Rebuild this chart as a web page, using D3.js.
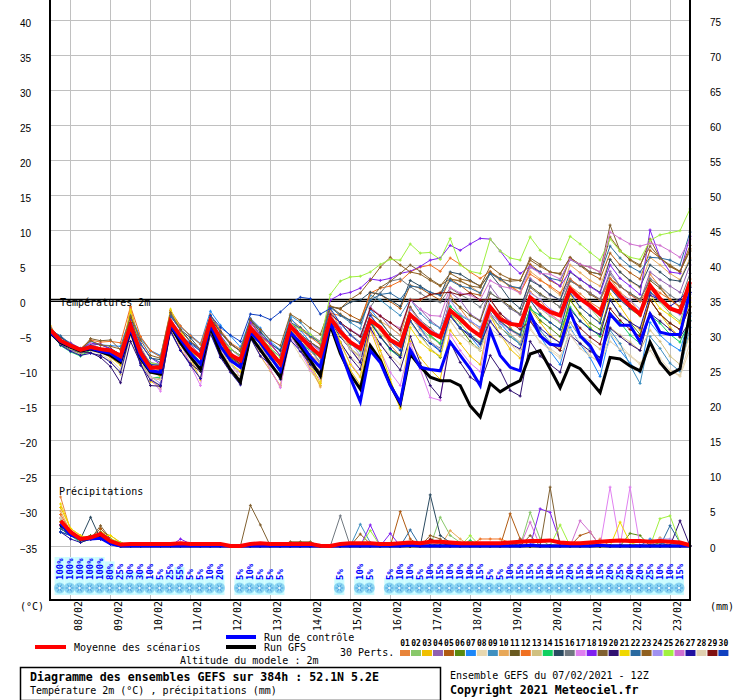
<!DOCTYPE html>
<html lang="fr">
<head>
<meta charset="utf-8">
<title>Diagramme des ensembles GEFS</title>
<script src="https://cdn.jsdelivr.net/npm/d3@7"></script>
<style>
  body { margin: 0; background: #fff; }
  svg { display: block; }
  text { font-family: "DejaVu Sans Mono", monospace; font-size: 10px; fill: #000; }
  .axis text { font-family: "Liberation Sans", Arial, sans-serif; font-size: 10px; fill: #000; }
  .dates text { font-family: "DejaVu Sans Mono", monospace; font-size: 10px; }
</style>
</head>
<body>
<svg id="chart" width="740" height="700"></svg>
<script>
// ---- data (6-hourly steps from 07/02 12Z, 0..384h) ----
const days = ["08/02","09/02","10/02","11/02","12/02","13/02","14/02","15/02",
              "16/02","17/02","18/02","19/02","20/02","21/02","22/02","23/02"];
const dayIdx = [2,6,10,14,18,22,26,30,34,38,42,46,50,54,58,62];
const tempTicks = [-35,-30,-25,-20,-15,-10,-5,0,5,10,15,20,25,30,35,40];
const mmTicks = [0,5,10,15,20,25,30,35,40,45,50,55,60,65,70,75];
const memberLabels = ["01","02","03","04","05","06","07","08","09","10","11","12","13","14","15",
                      "16","17","18","19","20","21","22","23","24","25","26","27","28","29","30"];
const memberColors = ["#e8843a","#88c86a","#f0c000","#9060b0","#b05a10","#5a8a10","#1e88f8","#e8d8b0",
                      "#4090c0","#e8a858","#6a5a20","#f07020","#d0c080","#10d060","#2a4a60","#707880",
                      "#e080f0","#8020f0","#806030","#301070","#f0d800","#2a6aa0","#906020","#a090f0",
                      "#a0f040","#d070d0","#2010a0","#e0d0b0","#801010","#1040c0"];

const tMean = [-4.2,-5.7,-6.4,-7.0,-6.6,-6.9,-7.1,-7.9,
  -3.5,-7.4,-9.6,-9.5,-3.0,-5.0,-6.8,-8.0,-2.9,-5.5,-7.7,-8.5,-3.9,-5.5,-7.3,-9.0,-3.6,-5.2,-6.6,-7.8,
  -2.5,-4.4,-5.9,-6.8,-2.8,-3.8,-5.6,-6.4,-2.0,-3.3,-4.5,-5.2,-1.4,-2.6,-4.0,-5.0,-0.9,-2.6,-3.3,-3.5,
  0.5,-0.7,-1.6,-2.1,1.7,0.3,-0.7,-1.9,2.4,0.7,-0.7,-1.9,2.2,0.3,-1.1,-1.6,2.7];
const tCtrl = [-4.5,-5.8,-6.5,-7.0,-6.8,-7.2,-7.5,-8.5,
  -4.0,-8.0,-10.0,-10.2,-3.5,-5.5,-7.5,-9.0,-3.5,-6.5,-8.5,-9.5,-4.5,-6.0,-8.0,-10.0,-4.5,-6.0,-8.0,-9.5,
  -3.0,-7.0,-11.0,-14.4,-7.1,-8.8,-12.1,-14.5,-7.0,-9.5,-9.8,-10.0,-5.9,-7.8,-9.7,-12.1,-4.2,-7.8,-9.5,-10.0,
  -1.9,-5.0,-6.2,-6.4,-1.6,-5.0,-6.4,-9.0,-1.9,-3.5,-3.5,-5.9,-1.9,-4.5,-4.8,-4.8,1.3];
const tGfs = [-4.6,-6.0,-6.6,-7.2,-6.9,-7.3,-7.8,-8.8,
  -4.2,-8.2,-10.2,-10.5,-3.6,-6.0,-8.0,-9.8,-3.8,-7.5,-9.8,-11.6,-5.0,-7.0,-9.0,-10.9,-4.5,-6.5,-8.5,-10.7,
  -3.5,-7.5,-10.5,-12.6,-6.4,-8.5,-12.0,-14.7,-7.6,-9.4,-10.9,-11.4,-11.4,-12.1,-15.0,-16.6,-11.8,-13.0,-12.1,-11.4,
  -7.6,-7.1,-9.7,-12.4,-9.0,-9.7,-11.4,-13.1,-8.1,-8.3,-9.3,-10.0,-5.9,-8.8,-10.5,-9.7,-1.6];

const m01 = [-4.3,-5.8,-6.8,-7.2,-6.3,-7.0,-7.8,-8.6, -1.0,-6.5,-9.2,-10.1,-2.4,-5.1,-7.6,-9.0,-3.1,-6.0,-8.2,-9.6,-3.4,-5.2,-7.1,-9.3,-3.2,-5.8,-7.7,-8.9, -1.2,-4.0,-6.8,-8.7,-2.1,-4.2,-6.3,-7.9,-1.0,-3.1,-5.0,-6.2,0.8,-1.1,-3.0,-4.2,0.2,-2.0,-3.8,-5.1,1.3,0.1,-1.8,-3.0,2.1,1.0,-0.2,-1.1,3.2,1.2,0.1,-1.8,3.8,2.0,0.2,-1.0,3.1];
const m02 = [-4.8,-6.1,-6.9,-7.6,-7.1,-7.2,-7.0,-7.7, -3.0,-7.1,-9.8,-10.2,-3.3,-5.2,-6.9,-8.1,-3.8,-5.9,-7.8,-8.8,-4.4,-5.8,-7.9,-9.7,-4.2,-5.1,-6.9,-8.2, -3.0,-4.8,-6.1,-7.2,-2.8,-4.1,-5.8,-6.9,-2.2,-3.9,-5.2,-6.1,-1.8,-3.2,-4.9,-5.8,-1.2,-2.9,-4.0,-4.8,0.2,-1.1,-2.2,-3.1,1.0,0.2,-1.0,-2.7,1.8,0.3,-1.2,-2.1,1.4,-0.2,-1.8,-2.9,1.2];
const m03 = [-3.6,-5.9,-6.2,-7.1,-6.8,-7.3,-8.1,-9.2, -1.6,-7.8,-11.5,-12.3,-1.8,-4.2,-8.1,-11.3,-2.8,-6.2,-9.8,-11.9,-3.8,-6.3,-9.9,-12.3,-4.3,-6.4,-9.8,-12.1, -3.2,-6.8,-9.9,-12.0,-4.1,-7.9,-11.8,-15.4,-5.8,-8.1,-9.8,-11.2,-4.2,-6.1,-7.9,-9.1,-2.1,-4.8,-6.9,-8.2,-1.2,-3.1,-4.9,-6.0,0.1,-2.0,-3.8,-5.1,1.0,-0.8,-2.9,-4.2,0.2,-1.9,-3.8,-5.2,0.4];
const m04 = [-4.1,-5.2,-6.0,-6.8,-6.1,-6.2,-6.9,-7.6, -2.8,-6.9,-8.8,-9.1,-3.1,-4.9,-6.2,-7.8,-2.9,-5.2,-6.8,-8.1,-3.6,-5.0,-6.8,-8.7,-3.8,-4.9,-6.1,-7.2, -1.8,-3.2,-4.1,-5.0,-1.2,-2.1,-3.8,-4.9,0.1,-1.2,-2.8,-3.9,1.2,0.1,-1.9,-2.8,2.1,0.2,-1.1,-2.0,3.2,2.1,0.8,0.1,3.1,2.0,1.1,0.2,4.2,2.1,0.9,-0.1,4.1,3.0,2.1,1.2,5.1];
const m05 = [-4.7,-6.2,-6.8,-7.3,-6.9,-7.1,-7.2,-7.9, -3.8,-7.2,-9.1,-9.3,-3.6,-5.8,-7.0,-8.2,-2.9,-5.1,-6.9,-7.8,-2.8,-4.9,-6.1,-7.9,-2.6,-3.8,-4.9,-6.1, -0.8,-1.2,-2.1,-2.8,1.2,0.9,-0.1,-1.1,2.2,1.8,0.9,0.1,3.1,2.2,1.1,0.8,4.1,3.2,1.9,1.8,5.2,4.1,2.9,2.1,6.1,5.0,3.9,3.1,6.8,5.1,4.0,3.1,7.2,6.1,4.9,4.1,7.4];
const m06 = [-4.4,-6.0,-7.1,-7.4,-6.8,-7.0,-7.3,-8.2, -4.1,-8.1,-10.2,-10.1,-3.4,-5.2,-7.2,-8.9,-3.9,-6.1,-8.0,-9.2,-4.8,-6.1,-8.2,-9.9,-4.9,-5.8,-7.1,-8.8, -2.9,-5.1,-6.8,-8.1,-3.2,-5.0,-6.9,-7.8,-2.8,-4.9,-6.8,-8.1,-2.1,-3.9,-5.8,-7.1,-1.9,-3.8,-5.1,-6.2,-0.9,-2.8,-3.9,-5.1,0.1,-1.8,-3.2,-4.1,0.2,-2.1,-3.1,-4.8,0.1,-1.9,-3.2,-4.1,-0.8];
const m07 = [-4.9,-5.9,-6.6,-7.1,-5.8,-6.3,-6.4,-6.5, -2.2,-5.2,-7.1,-7.8,-2.0,-3.8,-4.9,-6.1,-1.5,-3.5,-5.0,-6.6,-2.5,-3.9,-5.8,-7.0,-2.4,-4.2,-5.9,-7.1, -1.8,-3.1,-4.2,-5.1,-1.2,-3.0,-4.8,-5.9,-2.1,-3.8,-5.9,-7.1,-1.9,-3.8,-5.1,-6.8,-1.1,-3.2,-4.8,-6.1,-2.9,-5.1,-7.2,-9.1,-3.8,-6.2,-8.1,-10.8,-4.8,-7.1,-8.9,-10.2,-3.1,-4.9,-6.2,-7.1,-2.2];
const m08 = [-4.2,-6.1,-6.9,-7.2,-7.1,-7.6,-8.4,-9.8, -4.8,-8.8,-11.1,-12.1,-4.2,-6.9,-9.1,-11.0,-4.6,-7.8,-10.1,-11.4,-5.4,-7.9,-10.0,-12.2,-5.6,-7.9,-10.1,-11.8, -3.8,-6.1,-7.9,-9.2,-3.9,-6.2,-7.8,-9.1,-3.2,-5.1,-6.8,-7.9,-2.9,-4.8,-6.2,-7.1,-3.1,-4.9,-6.1,-7.8,-3.8,-5.9,-7.1,-8.2,-4.1,-6.0,-7.8,-8.9,-4.8,-6.2,-7.9,-9.1,-6.1,-8.2,-9.9,-10.8,-6.9];
const m09 = [-4.0,-5.3,-6.1,-6.9,-6.3,-6.8,-7.2,-7.8, -2.1,-5.4,-7.2,-8.0,-1.6,-3.6,-5.1,-6.2,-2.4,-4.6,-6.2,-7.1,-2.7,-4.3,-6.1,-7.2,-2.1,-3.1,-4.8,-5.9, -0.9,-2.1,-3.1,-4.0,0.8,0.1,-1.0,-2.1,0.2,-1.8,-3.1,-3.9,-0.8,-2.1,-2.9,-3.8,-1.9,-3.8,-5.1,-6.2,-2.1,-4.2,-5.9,-7.1,-3.1,-5.2,-6.8,-8.1,-4.2,-6.1,-9.2,-11.8,-5.1,-6.8,-8.9,-10.1,-3.8];
const m10 = [-3.8,-5.9,-6.3,-7.0,-6.9,-7.1,-6.8,-7.9, -3.7,-8.9,-11.0,-11.3,-2.8,-6.9,-8.8,-10.1,-3.7,-7.8,-10.1,-10.8,-4.6,-7.9,-10.0,-12.1,-4.8,-7.1,-9.2,-12.3, -2.8,-4.9,-6.1,-7.0,-1.8,-2.9,-3.8,-4.9,0.2,0.1,0.8,1.2,3.1,2.9,2.1,1.1,4.0,2.9,2.1,1.0,4.2,3.1,1.9,0.8,5.1,4.0,2.9,2.1,5.9,4.1,2.8,1.9,6.2,5.1,3.9,3.0,6.1];
const m11 = [-4.3,-6.2,-7.0,-7.3,-6.9,-7.2,-7.8,-8.2, -3.1,-7.9,-10.9,-11.1,-3.0,-5.8,-8.1,-9.9,-3.3,-6.1,-8.2,-9.1,-4.1,-6.0,-8.1,-9.8,-3.9,-5.1,-6.9,-8.8, -2.1,-3.9,-5.8,-6.9,-1.8,-2.9,-4.8,-5.9,-0.9,-2.8,-3.9,-5.1,0.2,-0.9,-2.1,-2.9,1.1,0.2,-0.8,-1.9,2.1,1.0,0.1,-0.9,2.8,2.1,0.9,0.1,3.1,2.0,1.1,0.2,2.9,1.8,0.1,-0.8,2.1];
const m12 = [-3.9,-5.6,-6.2,-6.8,-5.6,-5.9,-5.8,-6.0, -0.8,-5.1,-7.1,-8.0,-1.4,-3.6,-5.0,-6.2,-2.0,-4.2,-6.0,-6.9,-3.0,-5.0,-6.3,-7.8,-3.0,-4.1,-5.2,-6.3, -1.8,-2.1,-2.8,-3.1,1.1,1.8,2.1,2.8,4.1,4.8,5.1,4.2,6.1,5.2,4.1,3.2,4.2,3.1,2.1,1.2,3.8,2.9,2.1,1.1,3.1,2.0,1.1,0.1,3.2,2.1,0.9,-0.1,2.2,1.1,0.2,-0.9,1.2];
const m13 = [-4.5,-6.3,-7.1,-7.7,-7.4,-7.9,-8.6,-10.5, -4.9,-8.9,-10.9,-12.6,-3.8,-6.2,-8.9,-11.1,-4.8,-7.2,-9.1,-10.2,-4.8,-7.1,-9.1,-11.1,-4.6,-6.8,-8.9,-10.1, -3.1,-4.9,-6.8,-7.9,-2.9,-4.8,-5.9,-6.9,-1.8,-2.9,-4.1,-4.9,-1.1,-2.8,-3.9,-4.8,-2.1,-3.9,-4.8,-5.9,-2.9,-4.8,-5.9,-6.8,-3.1,-4.9,-5.8,-6.9,-3.8,-4.9,-5.9,-7.1,-4.2,-5.8,-7.9,-9.1,-4.8];
const m14 = [-4.2,-6.4,-7.3,-7.9,-7.0,-7.2,-7.4,-8.0, -4.0,-8.3,-11.0,-10.9,-2.9,-4.9,-7.0,-8.8,-3.0,-5.8,-7.9,-9.0,-3.9,-6.0,-8.2,-10.2,-5.1,-6.2,-7.1,-8.1, -2.2,-4.1,-6.2,-7.1,-2.9,-5.1,-7.0,-8.1,-2.1,-3.2,-4.9,-6.1,-0.8,-2.1,-3.9,-4.9,-1.8,-3.1,-4.1,-5.1,-1.2,-2.1,-3.1,-4.1,-0.9,-2.9,-3.9,-5.1,-1.8,-3.1,-4.9,-6.1,-2.1,-3.2,-4.8,-5.9,-2.8];
const m15 = [-4.0,-5.2,-6.2,-6.9,-6.1,-6.3,-6.8,-7.7, -2.4,-6.1,-8.2,-8.4,-2.2,-4.1,-5.3,-7.0,-2.6,-4.4,-6.1,-7.2,-2.7,-4.5,-6.1,-7.1,-2.9,-4.8,-5.9,-6.9, -0.9,-1.1,-0.2,0.1,1.2,0.9,0.1,-0.8,2.9,2.1,1.2,0.8,4.1,3.8,2.9,2.1,3.9,2.1,0.1,-1.1,2.9,2.1,0.9,0.1,4.1,3.0,2.1,1.2,5.9,4.1,2.9,2.0,5.1,4.1,3.0,2.8,5.8];
const m16 = [-4.6,-6.0,-6.7,-7.0,-6.4,-6.9,-7.2,-8.1, -3.3,-7.2,-9.1,-9.8,-2.9,-5.1,-6.8,-8.2,-3.8,-5.9,-7.2,-8.9,-3.9,-5.2,-7.1,-8.9,-3.9,-5.1,-6.8,-8.1, -1.9,-3.1,-4.8,-5.9,-0.9,1.1,2.8,3.1,2.0,1.1,0.1,-0.2,1.8,0.9,0.1,-0.9,1.2,0.1,-1.1,-1.9,1.9,0.8,0.1,-0.9,2.9,1.9,1.1,0.2,3.8,2.1,1.0,0.1,3.2,2.1,0.8,-0.1,3.9];
const m17 = [-4.1,-5.9,-6.8,-7.4,-6.8,-7.1,-7.9,-8.8, -3.3,-8.1,-11.1,-12.9,-3.1,-5.9,-9.2,-12.1,-3.9,-6.9,-9.8,-10.2,-4.8,-7.1,-9.8,-12.4,-5.1,-7.2,-9.9,-11.2, -3.1,-6.2,-8.9,-10.8,-3.9,-7.1,-10.2,-12.1,-6.1,-9.8,-13.8,-14.2,-4.8,-7.1,-8.9,-10.1,-1.9,-3.1,-4.2,-5.1,0.2,-1.1,-2.0,-2.9,0.9,0.1,-1.1,-1.9,2.1,0.2,-0.9,-1.8,1.1,0.1,-1.2,-2.0,0.1];
const m18 = [-3.9,-5.8,-6.1,-6.8,-6.1,-6.2,-6.9,-7.8, -2.8,-6.1,-8.1,-9.1,-2.1,-4.2,-5.9,-6.9,-2.9,-4.9,-6.8,-7.9,-3.1,-4.9,-6.1,-7.8,-3.2,-4.1,-4.9,-5.8, 0.1,0.9,1.2,1.8,3.1,2.9,3.2,3.9,4.2,4.9,5.8,6.1,7.9,7.2,8.1,8.9,8.8,7.1,5.2,3.9,4.9,4.1,3.1,2.1,4.2,3.1,2.0,1.1,5.1,3.2,2.1,0.9,10.1,6.2,4.1,3.9,9.2];
const m19 = [-4.4,-6.1,-6.9,-7.1,-5.4,-5.7,-5.6,-7.0, -3.1,-7.2,-9.2,-9.9,-2.9,-5.2,-6.9,-8.1,-3.1,-5.8,-7.9,-9.1,-3.8,-5.1,-6.9,-8.8,-3.7,-4.8,-5.9,-6.8, -0.8,-1.9,-2.8,-3.1,0.2,1.9,2.8,3.9,5.1,4.2,3.1,2.2,3.1,2.8,2.1,1.9,4.1,3.1,2.8,2.9,6.1,5.2,4.1,3.8,6.2,5.1,4.8,4.1,10.8,7.1,5.9,5.1,7.8,6.1,4.9,4.2,7.1];
const m20 = [-4.3,-6.2,-6.9,-7.3,-7.4,-8.1,-9.4,-11.7, -5.8,-8.9,-12.1,-12.2,-4.2,-7.1,-9.0,-10.1,-4.5,-7.9,-9.9,-11.8,-5.4,-7.2,-9.1,-10.9,-4.7,-7.1,-8.9,-10.1, -3.2,-5.9,-8.1,-9.8,-3.9,-6.2,-8.1,-9.9,-5.1,-8.9,-12.1,-13.8,-5.9,-8.8,-10.9,-11.9,-7.8,-9.9,-12.8,-13.6,-5.8,-7.9,-9.1,-10.2,-4.9,-6.1,-7.2,-8.1,-3.9,-5.1,-6.2,-7.1,-1.8,-2.9,-4.1,-5.2,-2.9];
const m21 = [-4.0,-6.0,-6.7,-7.2,-6.9,-7.2,-7.4,-8.1, -1.3,-7.0,-9.9,-10.8,-1.2,-4.1,-6.9,-9.1,-2.8,-5.9,-8.9,-10.1,-3.9,-6.1,-8.8,-11.1,-3.9,-6.2,-8.9,-11.8, -2.1,-5.9,-9.1,-10.9,-2.8,-7.1,-11.2,-15.2,-3.8,-5.9,-7.1,-7.9,-1.8,-3.9,-5.1,-6.1,-0.8,-2.9,-4.1,-5.0,0.1,-1.8,-3.1,-4.1,0.8,-0.9,-2.1,-3.1,1.9,0.1,-1.1,-2.2,0.9,-1.1,-2.1,-3.2,-0.2];
const m22 = [-4.2,-5.0,-6.2,-6.9,-6.2,-6.8,-7.1,-7.7, -2.9,-6.2,-8.1,-8.8,-2.1,-4.1,-5.9,-7.1,-3.0,-5.1,-6.9,-7.8,-3.9,-5.1,-6.8,-8.0,-3.1,-3.9,-5.1,-6.0, -0.9,-2.1,-2.8,-3.2,0.1,0.9,1.1,0.2,2.1,1.9,1.2,0.8,2.9,2.1,1.8,1.1,3.9,3.1,2.1,1.8,4.8,4.1,3.2,2.9,5.9,5.1,4.1,3.8,7.8,6.1,4.9,4.1,6.2,6.1,5.8,5.1,9.8];
const m23 = [-4.0,-5.8,-6.3,-6.9,-5.7,-6.3,-6.5,-6.9, -2.2,-5.6,-7.8,-8.2,-1.7,-4.1,-5.8,-6.9,-2.1,-4.5,-6.2,-7.2,-2.6,-4.1,-5.6,-6.4,-1.9,-2.8,-3.9,-4.8, -0.8,-1.1,0.2,1.1,2.9,4.8,6.2,5.1,4.1,3.8,2.9,2.1,3.9,3.1,2.8,2.1,4.9,3.8,3.1,2.9,5.8,4.9,4.1,3.9,6.1,5.2,4.1,3.8,9.1,7.2,5.8,4.9,8.8,6.1,5.1,4.2,7.9];
const m24 = [-4.4,-6.2,-7.2,-7.1,-7.1,-7.4,-7.8,-8.3, -3.4,-7.2,-10.8,-11.8,-3.1,-5.8,-8.1,-9.8,-3.8,-6.1,-8.9,-10.9,-4.1,-6.2,-8.8,-10.8,-4.0,-5.2,-7.1,-8.8, -2.1,-3.8,-5.9,-7.8,-1.9,-4.1,-5.8,-6.9,-1.2,-2.8,-4.1,-4.9,0.1,-1.9,-2.8,-3.9,0.2,-1.8,-2.9,-3.8,1.1,0.2,-1.2,-1.9,1.8,0.1,-0.8,-2.1,2.1,0.9,0.1,-1.2,1.9,0.1,-1.1,-1.8,0.9];
const m25 = [-4.1,-6.1,-6.9,-7.0,-6.8,-6.9,-7.1,-7.8, -3.0,-6.9,-8.9,-9.1,-2.9,-5.2,-6.9,-7.8,-3.1,-5.2,-6.8,-7.9,-3.9,-5.1,-6.8,-8.1,-3.2,-4.1,-4.8,-5.9, 0.9,2.8,3.4,3.5,4.1,5.2,5.9,5.8,8.1,6.8,6.9,5.9,8.9,5.1,4.2,3.9,8.8,7.1,6.1,5.8,9.1,7.2,6.1,5.9,9.2,8.1,6.9,5.8,8.8,7.1,6.2,5.9,8.6,9.4,9.7,10.0,13.1];
const m26 = [-4.2,-5.8,-6.6,-7.2,-6.1,-6.8,-7.2,-7.8, -3.1,-6.8,-9.1,-9.8,-2.8,-5.1,-6.9,-8.1,-3.2,-5.8,-7.8,-8.9,-4.1,-5.8,-7.9,-9.1,-3.2,-4.9,-6.1,-7.1, -1.8,-3.2,-4.1,-5.1,-0.9,-2.1,-3.2,-3.9,0.1,-1.2,-2.1,-2.2,1.9,1.1,0.8,0.1,2.9,2.1,1.8,1.1,4.8,3.9,3.8,3.1,5.9,5.2,4.8,4.1,9.8,8.9,8.1,7.8,8.2,7.9,7.1,6.2,8.8];
const m27 = [-4.5,-6.3,-7.2,-7.8,-7.5,-7.8,-8.8,-10.2, -4.6,-9.2,-11.3,-12.1,-4.4,-7.1,-9.2,-11.1,-4.7,-8.1,-10.2,-12.0,-5.3,-7.9,-9.1,-11.2,-5.6,-7.2,-9.1,-10.8, -2.9,-5.1,-6.9,-8.8,-3.1,-5.2,-6.8,-8.1,-2.1,-4.1,-5.9,-6.8,-2.2,-3.9,-5.1,-6.2,-2.9,-4.8,-6.1,-6.9,-2.1,-3.9,-5.1,-6.0,-1.2,-2.9,-4.1,-4.8,0.1,-1.9,-3.1,-3.9,0.8,0.1,-0.8,0.2,1.9];
const m28 = [-4.3,-6.1,-6.8,-7.3,-7.0,-7.3,-7.7,-8.4, -3.8,-8.1,-10.9,-11.2,-3.5,-6.2,-8.1,-9.9,-4.4,-7.2,-9.1,-10.9,-4.6,-7.1,-8.9,-10.9,-4.7,-6.9,-8.2,-9.9, -2.8,-4.9,-6.9,-8.1,-2.2,-4.1,-5.9,-6.8,-1.9,-4.2,-5.8,-6.9,-2.8,-4.9,-6.1,-6.8,-3.9,-5.1,-6.2,-7.1,-4.1,-5.9,-6.8,-7.9,-4.9,-6.8,-7.9,-8.8,-5.8,-6.9,-7.8,-8.9,-7.1,-9.0,-10.1,-10.6,-5.9];
const m29 = [-4.1,-6.0,-6.6,-7.0,-6.8,-6.9,-7.2,-7.9, -3.1,-7.1,-9.2,-9.8,-2.9,-5.0,-7.0,-8.1,-3.2,-5.9,-7.9,-9.0,-3.9,-5.2,-7.2,-9.0,-3.9,-5.1,-6.2,-7.9, -1.9,-3.1,-4.2,-5.1,-1.1,-2.2,-3.1,-4.2,0.1,0.2,0.9,1.1,1.2,0.8,1.1,0.1,0.2,-1.8,-3.1,-4.1,-2.9,-4.8,-6.1,-7.1,-2.1,-3.9,-5.2,-6.2,-1.1,-2.8,-4.1,-5.1,0.1,-1.9,-3.2,-4.1,-0.9];
const m30 = [-4.8,-5.9,-6.7,-7.1,-6.4,-6.9,-7.2,-7.9, -3.2,-6.9,-9.1,-9.2,-2.9,-4.9,-6.1,-7.2,-2.1,-3.8,-4.9,-5.8,-1.9,-2.1,-2.7,-1.6,-0.3,0.5,0.3,-1.9, -1.1,-3.2,-4.9,-6.1,-2.1,-3.9,-5.8,-7.1,-2.9,-4.9,-6.1,-7.2,-2.1,-3.9,-4.8,-6.1,-1.2,-2.9,-4.1,-4.9,0.1,-1.9,-3.1,-4.1,1.1,-0.9,-2.1,-3.2,1.8,0.1,-1.1,-2.1,1.2,0.1,-0.9,-1.8,1.2];
const members = [m01,m02,m03,m04,m05,m06,m07,m08,m09,m10,m11,m12,m13,m14,m15,
                 m16,m17,m18,m19,m20,m21,m22,m23,m24,m25,m26,m27,m28,m29,m30];

// precipitation, mm per 6h, steps 6h..384h
const pMean = [3.6,2.0,1.0,1.2,1.7,0.7,0.2,0.3, 0.3,0.3,0.3,0.3,0.4,0.3,0.3,0.3, 0.3,0,0,0.3,0.4,0.3,0.3,0.3, 0.3,0.3,0.05,0,0.3,0.4,0.4,0.4, 0.3,0.3,0.4,0.5,0.4,0.6,0.6,0.5, 0.4,0.4,0.4,0.4,0.4,0.5,0.6,0.7, 0.7,0.8,0.5,0.4,0.4,0.5,0.6,0.7, 0.8,0.7,0.7,0.6,0.7,0.6,0.5,0.1];
const pCtrl = [3.2,1.6,1.0,1.0,1.1,0.3,0,0, 0,0,0,0,0,0,0,0, 0,0,0,0,0,0,0,0, 0,0,0,0,0,0,0,0, 0,0,0,0.1,0,0,0,0, 0,0,0,0,0,0,0,0.1, 0,0,0,0,0,0,0.1,0, 0,0,0,0,0,0,0,0];
const pGfs = [3.0,1.8,0.9,1.1,1.3,0.4,0,0, 0,0,0,0,0,0,0,0, 0,0,0,0,0,0,0,0, 0,0,0,0,0,0,0,0, 0,0,0,0,0,0,0,0, 0,0,0,0,0,0,0,0, 0,0,0,0,0,0,0,0, 0,0,0,0,0,0,0,0];
const p01 = [7,2.2,1,1.5,1.6,0.6,0.1,0, 0,0,0,0,0.2,0,0,0, 0,0,0,0,0,0,0,0, 0,0,0,0,0,0,0,0, 0,0,0,0,0,0,0.5,0.3, 0,0,0,0,0,0,0,0, 0,0,0,0,0,0,1,0, 0,0,0,0,0,0,0,0];
const p02 = [4,2,1,1,2,0.5,0,0, 0,0,0,0,0,0,0,0, 0,0,0,0,0,0,0,0, 0,0,0,0,0,0,0,0, 0,0,0,0,0,0,4.1,1.5, 0.5,0,0,0,0,0,0,4.8, 1,0,0,0,0,0,0,0, 0,0,0,0,0,0,0,0];
const p03 = [5.5,2.5,1.5,1,2,1.5,0.5,0, 0,0,0,0,0,0,0,0, 0,0,0,0,0,0,0,0, 0,0,0,0,0,0,0,0, 0,0,0,0,0,0,0,0, 0,0,0,0,0,0,0,0, 0,0,0,0,0,0,0,0, 0,0,0,0,0,0,0,0];
const p04 = [3,1.5,1,1,1.5,0.5,0,0, 0,0,0,0,0,0,0,0, 0,0,0,0,0,0,0,0, 0,0,0,0,0,0,0,0, 0,0,0,0,0,0,0,0, 0,0,0,0,0,0,1,0.5, 0,0,0,0,0,0,0,0, 0,0,0,0,0,0,0,0];
const p05 = [4,2,1,1,2.5,1,0,0, 0,0,0,0,0,0,0,0, 0,0,0,0,0,0,0,0, 0,0,0,0,0,0,0,0, 0,0,4.9,1,0,0,0,0, 0,0,0,0,0,4.6,1,0, 0,0,0,0,1.5,2,0,0, 0,0,0,0,0,0,0,0];
const p06 = [3.5,1.5,1,1.5,1,0.5,0,0, 0,0,0,0,0,0,0,0, 0,0,0,0,0,0,0,0, 0,0,0,0,0,0,0,0, 0,0,0,0,0,0,0,0, 0,0,0,0,0,0,0,0, 0,0,0,0,0,0,0,0, 0,1.8,1.5,0,0.5,0,0,0];
const p07 = [3,1.5,1,1,1,0.5,0,0, 0,0,0,0,0,0,0,0, 0,0,0,0,0,0,0,0, 0,0,0,0,0,0,0,0.3, 0,0,0,0,0,0,0,0, 0,0,0,0,0,0,0,0, 0,0,0,0,0,0,0,0, 0,0,0,1,0.5,0,0,0];
const p08 = [4,2,0.5,1,1,0.5,0,0, 0,0,0,0,0,0,0,0, 0,0,0,0,0,0,0,0, 0,0,0,0,0,0,0,0, 0,0,0,0,0,0,0,0, 0,0,0,0,0,0,0,0, 0,0,0,0,0,0,0,0, 0,0,0,0,0,0,0,0];
const p09 = [2,1.5,1,1,1,0.3,0,0, 0,0,0,0,0,0,0,0, 0,0,0,0,0,0,0,0, 0,0,0,0,0,0,3.1,0.5, 0,0,0,0,0,0,0,0, 0,0,0,0,0,0,0,0, 0,0,0,0,0,0,0,0, 0,0,0,0,0,0,0,0];
const p10 = [5,2,1,1,1.5,1,0.5,0, 0,0,0,0,0,0,0,0, 0,0,0,0,0,0,0,0, 0,0,0,0,0,0,0,0, 0,0,0,0,0,0,0,2.2, 1,0,0,0,0,0,0,0, 0,0,0,0,0,0,0,0, 0,0,0,0,1.2,0,0,0];
const p11 = [3.5,2,1,1,1.5,0.5,0,0, 0,0,0,0,0,0,0,0, 0,0,0,0,0,0,0,0, 0,0,0,0,0,0,0,0, 0,0,0,0,0,0,0,0, 0,0,0,0,0,0,0,0, 0,0,0,0,0,0,0,0, 0,0,0,0,0,0,0,0];
const p12 = [4.5,2,1,1,1,0.5,0,0, 0,0,0,0,0,0,0,0, 0,0,0,0,0,0,0,0, 0,0,0,0,0,0,0,0, 0,0,0,0,0,0,0,0, 0,0,1,1,1,0.5,0,0, 0,0,0,0,0,0,0,0, 0,0,0,0,0,0,0,0];
const p13 = [3,1.5,1,1,1,0.5,0,0, 0,0,0,0,0,0,0,0, 0,0,0,0,0,0,0,0, 0,0,0,0,0,0,0,0, 0,0,0,0,0,0,0,0, 0,0,0,0,0,0,0,0, 0,0,0,0,0,0,0,0, 0,0,0,0,0,0,0,0];
const p14 = [2.5,1.5,0.5,1,1,0.5,0,0, 0,0,0,0,0,0,0,0, 0,0,0,0,0,0,0,0, 0,0,0,0,0,0,0,0, 0,0,0,0,0,0,0,0, 0,0.8,0,0,0,0,0,0, 0,0,0,0,0,0,0,0, 0,0,0,0,0,0,0,0];
const p15 = [2.5,1.5,1,4.1,1,0.3,0,0, 0,0,0,0,0,0,0,0, 0,0,0,0,0,0,0,0, 0,0,0,0,0,0,0,0, 0,0,0,0,0,7.3,1.5,0.5, 0,0,0,0,0,0,0,0, 0,0,0,0,0,0,0,0, 0,0,0,0,0,0,0,0];
const p16 = [2,1.5,1,1,1,0.3,0,0, 0,0,0,0,0,0,0,0, 0,0,0,0,0,0,0,0, 0,0,0,0,4.3,0,0,0, 0,0,0,0,0,0,0,0, 0,0,0,0,0,0,0,0, 0,0,0,0,0,0,0,0, 0,0,0,0,0,0,0,0];
const p17 = [3,1.5,1,1,1,0.5,0,0, 0,0,0,0,0,0,0,0, 0,0,0,0,0,0,0,0, 0,0,0,0,0,0,0,0, 0,0,0,0,0,0,0,0, 0,0,0,0,0,0,0,0, 0,0,0,0,0,0,0,8.4, 0,8.4,0,0,0,0,0,0];
const p18 = [3,1.5,1,1,1,0.5,0,0, 0,0,0,0,1,0.3,0,0, 0,0,0,0,0,0,0,0, 0,0,0,0,0,0,0,3.0, 0,1.8,0,0,0,0,0,0, 0,0,0,0,0,0,0,0, 5.3,4.8,0.5,0,0,0,0,0, 0,0,0,0,0,0,0,0];
const p19 = [3,2,1,1,2.9,1,0,0, 0,0,0,0,0,0,0,0, 0,0,0,5.8,3,0,0,0, 0,0,0,0,0,0,0,0, 0,0,0,0,0,0,0,0, 0,0,0,0,0,0,0,1.5, 0,8.4,0,0,0,0,0,0, 0,0,0,0,0,0,0,0];
const p20 = [2.5,1.5,1,1,1,0.3,0,0, 0,0,0,0,0,0,0,0, 0,0,0,0,0,0,0,0, 0,0,0,0,0,0,0,0, 0,0,0,0,0,0,0,0, 0,0,0,0,0,0,0,0, 0,0,0,0,0,0,0,0, 0,0,0,0,0,0,3.6,0];
const p21 = [6,2.5,1.5,1,1.5,1.5,0.5,0, 0,0,0,0,0,0,0,0, 0,0,0,0,0,0,0,0, 0,0,0,0,0,0,0,0, 0,0,0,0,0,0,0,0, 0,0,0,0,0,0,0,0, 0,0,0,0,0,0,0,0, 3.4,0.5,0,0,0,0,0,0];
const p22 = [2.5,1.5,1,1,1,0.3,0,0, 0,0,0,0,0,0,0,0, 0,0,0,0,0,0,0,0, 0,0,0,0,0,0,0,0, 0,0,0,2.3,0,0,0,0, 0,0,0,0,0,0,0,0, 0,0,0,0,0,0,0,0, 0,0,0,0,0,2.9,0.5,0];
const p23 = [3.5,2,1,1,2,1,0,0, 0,0,0,0,0,0,0,0, 0,0,0,0,0,0,0,0.6, 0.6,0.6,0,0,0,0,1.7,0.3, 0,0,0,0,0,1.5,1,0, 0,0,0,0,0,0,0,0, 0,0,0,0,0,0,0,0, 0,0,0,0,0,0,0,0];
const p24 = [4,2,1,1,1,0.5,0,0, 0,0,0,0,0,0,0,0, 0,0,0,0,0,0,0,0, 0,0,0,0,0,0,0,0, 0,0,0,0,0,0,0,0, 0,0,0,0,0,0,0,0, 0,0,0,0,0,0,0,0, 0,0,0,0,1,1,0,0];
const p25 = [3.5,2,1,1,1.5,1,0.5,0, 0,0,0,0,0,0,0,0, 0,0,0,0,0,0,0,0, 0,0,0,0,0,0,0,2.2, 0,0,0,0,0,0,0,0, 0,1.5,0,0,0,0,0,0, 0,0,3.0,0,0,0,0,0, 0,0,0,0,3.9,4.3,0.5,0];
const p26 = [3,1.5,1,1,1.5,0.5,0,0, 0,0,0,0,0,0,0,0, 0,0,0,0,0,0,0,0, 0,0,0,0,0,0,0,0, 0,0,0,0,0,0,0,0, 0,0,0,0,0,0,0,3.4, 0,0,0,0,3.6,2,0,0, 0,0,0,0,0,0,0,0];
const p27 = [2,1,0.5,1,1,0.3,0,0, 0,0,0,0,0,0,0,0, 0,0,0,0,0,0,0,0, 0,0,0,0,0,0,0,0, 0,0,0,0,0,0,0,0, 0,0,0,0,0,0,0,0, 0,0,0,0,0,0,0,0, 0,0,0,0,0,0,0,0];
const p28 = [4,2,1,1,1,0.5,0,0, 0,0,0,0,0,0,0,0, 0,0,0,0,0,0,0,0, 0,0,0,0,0,0,0,0, 0,0,0,0,0,0,0,0, 0,0,0,0,0,0,0,0, 0,0,0,0,0,0,0,0, 0,0,0,0,0,0,0,0];
const p29 = [3,1.5,1,1,1,0.5,0,0, 0,0,0,0,0,0,0,0, 0,0,0,0,0,0,0,0, 0,0,0,0,0,0,0,0, 0,0,0,0,0,1,0.5,0, 0,0,0,0,0,0,0,0, 0,0,0,0,0,0,0,0, 0,0,0,0,0,0,0,0];
const p30 = [2,1.5,1,1,1,0.3,0,0, 0,0,0,0,0,0,0,0, 0,0,0,0,0,0,0,0, 0,0,0,0,0,0,0,0, 0,0,0,0,0,0,0,0, 0,0,0,0,0,0,0,0, 0,0,0,0,0,0,0,0, 0,0,0,0,0,0,0,0];
const precip = [p01,p02,p03,p04,p05,p06,p07,p08,p09,p10,p11,p12,p13,p14,p15,
                p16,p17,p18,p19,p20,p21,p22,p23,p24,p25,p26,p27,p28,p29,p30];

// probability of snow (%) per 6h step, 0 = none
const snowPct = [0,100,100,100,100,100,80,25,30,30,10,5,25,55,5,5,10,20,0,5,10,5,5,5,0,0,0,0,0,5,0,
  10,5,0,5,10,10,5,10,15,10,10,10,15,5,5,10,15,15,15,10,15,20,15,10,15,20,25,20,20,25,10,10,15,0];

// ---- scales ----
const svg = d3.select("#chart");
const x = d3.scaleLinear().domain([0, 64]).range([50.6, 690]);
const y = d3.scaleLinear().domain([-35, 40]).range([546, 20.5]);
const yMm = d3.scaleLinear().domain([0, 75]).range([546, 20.5]);
const L = 50, R = 690, B = 600;

// grid
const grid = svg.append("g").attr("stroke", "#c0c0c0").attr("stroke-width", 1)
  .attr("shape-rendering", "crispEdges");
grid.selectAll("line.h").data(tempTicks).join("line").attr("class", "h")
  .attr("x1", L).attr("x2", R).attr("y1", d => y(d)).attr("y2", d => y(d));
grid.selectAll("line.v").data(dayIdx).join("line").attr("class", "v")
  .attr("x1", d => x(d)).attr("x2", d => x(d)).attr("y1", 0).attr("y2", B);

// snow band
const snowData = snowPct.map((p, i) => ({ i, p })).filter(d => d.p > 0);
const snow = svg.append("g");
snow.selectAll("rect").data(snowData).join("rect")
  .attr("x", d => x(d.i) - 6).attr("width", 10)
  .attr("y", d => 579 - d.p * 0.22).attr("height", d => 595 - (579 - d.p * 0.22))
  .attr("fill", "#ccfcff");
const flakes = snow.selectAll("g.flake").data(snowData).join("g").attr("class", "flake")
  .attr("transform", d => `translate(${x(d.i) - 1},588)`);
flakes.append("circle").attr("r", 5.5).attr("fill", "#8cd6f2");
flakes.append("path").attr("d", "M-4,0H4M-2,-3.5L2,3.5M-2,3.5L2,-3.5")
  .attr("stroke", "#4a9ede").attr("stroke-width", 1).attr("fill", "none");
flakes.append("circle").attr("r", 1.2).attr("fill", "#e8f8ff");
snow.selectAll("text").data(snowData).join("text")
  .attr("transform", d => `translate(${x(d.i) + 2.5},580) rotate(-90)`)
  .style("fill", "#0000ff").style("font-weight", "bold").style("font-size", "9px")
  .text(d => d.p + "%");

// 0 °C line
svg.append("g").attr("stroke", "#000").attr("stroke-width", 1.2)
  .selectAll("line").data([-1.3, 0.7]).join("line")
  .attr("x1", L).attr("x2", R).attr("y1", d => y(0) + d).attr("y2", d => y(0) + d);

// series
const tLine = d3.line().x((d, i) => x(i)).y(d => y(d));
const pLine = d3.line().x((d, i) => x(i + 1)).y(d => yMm(d));
const plot = svg.append("g");

function marks(g, data, xf, yf, color) {
  g.append("path")
    .attr("d", data.map((d, i) => `M${xf(i) - 1.5},${yf(d)}h3M${xf(i)},${yf(d) - 1.5}v3`).join(""))
    .attr("stroke", color).attr("stroke-width", 1).attr("fill", "none");
}

members.forEach((m, k) => {
  plot.append("path").attr("d", tLine(m)).attr("fill", "none")
    .attr("stroke", memberColors[k]).attr("stroke-width", 1);
  marks(plot, m, i => x(i), d => y(d), memberColors[k]);
});
precip.forEach((p, k) => {
  plot.append("path").attr("d", pLine(p)).attr("fill", "none")
    .attr("stroke", memberColors[k]).attr("stroke-width", 1);
  marks(plot, p, i => x(i + 1), d => yMm(d), memberColors[k]);
});

const thick = [[tGfs, pGfs, "#000", 3], [tCtrl, pCtrl, "#0000ff", 3], [tMean, pMean, "#ff0000", 4]];
thick.forEach(([t, p, c, w]) => {
  plot.append("path").attr("d", tLine(t)).attr("fill", "none").attr("stroke", c).attr("stroke-width", w);
  plot.append("path").attr("d", pLine(p)).attr("fill", "none").attr("stroke", c).attr("stroke-width", w);
});

// frame
svg.append("path").attr("d", `M${L},0V${B}H${R}V0`).attr("fill", "none")
  .attr("stroke", "#000").attr("stroke-width", 1.3).attr("shape-rendering", "crispEdges");

// axes
const axL = svg.append("g").attr("class", "axis").attr("transform", `translate(${L},0)`)
  .call(d3.axisLeft(y).tickValues(tempTicks).tickSize(0));
axL.select(".domain").remove();
axL.selectAll("text").attr("x", -30).attr("dy", null).attr("y", 6).attr("text-anchor", "start");

const axR = svg.append("g").attr("class", "axis").attr("transform", `translate(${R},0)`)
  .call(d3.axisRight(yMm).tickValues(mmTicks).tickSize(0));
axR.select(".domain").remove();
axR.selectAll("text").attr("x", 20).attr("dy", null).attr("y", 5).attr("text-anchor", "start");

const axB = svg.append("g").attr("class", "dates").attr("transform", `translate(0,${B})`)
  .call(d3.axisBottom(x).tickValues(dayIdx).tickFormat((d, i) => days[i]).tickSize(0));
axB.select(".domain").remove();
axB.selectAll("text").attr("x", null).attr("y", null).attr("dy", null)
  .attr("transform", "translate(10.5,31) rotate(-90)").attr("text-anchor", "start");

svg.append("text").attr("x", 20).attr("y", 610).text("(°C)");
svg.append("text").attr("x", 710).attr("y", 610).text("(mm)");
svg.append("text").attr("x", 60).attr("y", 306).text("Températures 2m");
svg.append("text").attr("x", 59).attr("y", 495).text("Précipitations");

// legend
const leg = svg.append("g");
[[35, 66, 647, "#ff0000"], [226, 256, 637, "#0000ff"], [226, 256, 647, "#000"]].forEach(([a, b, yy, c]) => {
  leg.append("line").attr("x1", a).attr("x2", b).attr("y1", yy).attr("y2", yy)
    .attr("stroke", c).attr("stroke-width", 4);
});
leg.append("text").attr("x", 74).attr("y", 651).text("Moyenne des scénarios");
leg.append("text").attr("x", 264).attr("y", 641).text("Run de contrôle");
leg.append("text").attr("x", 264).attr("y", 651).text("Run GFS");
leg.append("text").attr("x", 340).attr("y", 656).text("30 Perts.");
leg.append("text").attr("x", 180).attr("y", 664).text("Altitude du modele : 2m");

const sw = leg.selectAll("g.sw").data(memberLabels).join("g").attr("class", "sw")
  .attr("transform", (d, i) => `translate(${400 + i * 10.98},0)`);
sw.append("rect").attr("x", 0).attr("y", 650).attr("width", 10).attr("height", 6)
  .attr("fill", (d, i) => memberColors[i]);
sw.append("text").attr("x", 5).attr("y", 646).attr("text-anchor", "middle")
  .style("font-size", "8px").style("font-weight", "bold").text(d => d);

// title box
svg.append("rect").attr("x", 20.5).attr("y", 667.5).attr("width", 420).attr("height", 33)
  .attr("fill", "none").attr("stroke", "#000").attr("stroke-width", 1.5);
svg.append("text").attr("x", 30).attr("y", 681).style("font-weight", "bold").style("font-size", "11.6px")
  .text("Diagramme des ensembles GEFS sur 384h : 52.1N 5.2E");
svg.append("text").attr("x", 30).attr("y", 694).text("Température 2m (°C) , précipitations (mm)");
svg.append("text").attr("x", 450).attr("y", 679).text("Ensemble GEFS du 07/02/2021 - 12Z");
svg.append("text").attr("x", 450).attr("y", 694).style("font-weight", "bold").style("font-size", "11.6px")
  .text("Copyright 2021 Meteociel.fr");
</script>
</body>
</html>
